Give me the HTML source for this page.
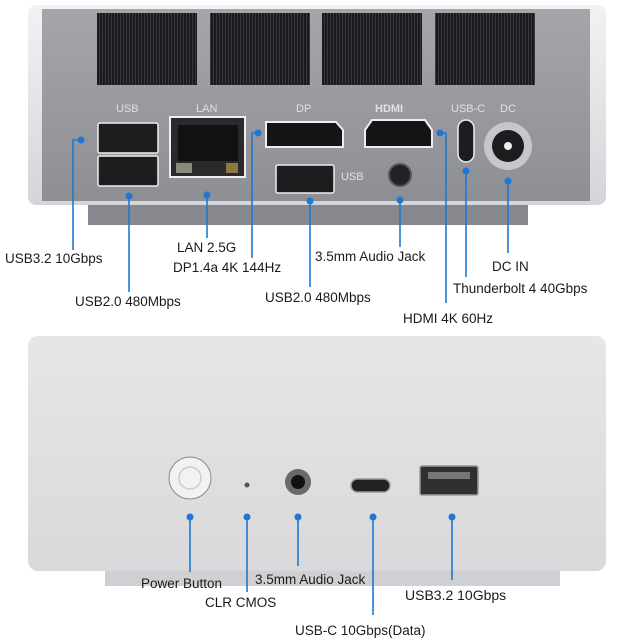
<!DOCTYPE html>
<html><head><style>body{margin:0;background:#fff}svg{display:block}text{font-family:"Liberation Sans",sans-serif;fill:#1a1a1a}</style></head><body>
<svg width="640" height="640" viewBox="0 0 640 640">
<defs>
<linearGradient id="sil" x1="0" x2="0" y1="0" y2="1"><stop offset="0" stop-color="#f2f2f4"/><stop offset="1" stop-color="#d4d5d8"/></linearGradient>
<linearGradient id="face" x1="0" x2="0" y1="0" y2="1"><stop offset="0" stop-color="#a4a6ab"/><stop offset="1" stop-color="#8d8f95"/></linearGradient>
<linearGradient id="body2" x1="0" x2="0" y1="0" y2="1"><stop offset="0" stop-color="#e6e6e8"/><stop offset="1" stop-color="#d9d9dc"/></linearGradient>
<pattern id="vent" width="3" height="4" patternUnits="userSpaceOnUse"><rect width="3" height="4" fill="#1a1a1c"/><rect width="1" height="4" fill="#3a3a3e"/></pattern>
</defs>
<!-- top device -->
<rect x="88" y="195" width="440" height="30" fill="#86888d"/>
<rect x="28" y="5" width="578" height="200" rx="8" fill="url(#sil)"/>
<rect x="42" y="9" width="548" height="192" fill="url(#face)"/>
<rect x="97" y="13" width="100" height="72" fill="url(#vent)"/>
<rect x="210" y="13" width="100" height="72" fill="url(#vent)"/>
<rect x="322" y="13" width="100" height="72" fill="url(#vent)"/>
<rect x="435" y="13" width="100" height="72" fill="url(#vent)"/>
<g font-size="11" fill="#d8d8da" style="fill:#dcdcde">
<text x="116" y="112" style="fill:#e0e0e2">USB</text><text x="196" y="112" style="fill:#e0e0e2">LAN</text><text x="296" y="112" style="fill:#e0e0e2">DP</text><text x="375" y="112" style="fill:#e0e0e2" font-weight="bold">HDMI</text><text x="451" y="112" style="fill:#e0e0e2">USB-C</text><text x="500" y="112" style="fill:#e0e0e2">DC</text><text x="341" y="180" style="fill:#e0e0e2">USB</text></g>
<rect x="98" y="123" width="60" height="30" rx="2" fill="#1d1d1f" stroke="#eee" stroke-width="1.5"/>
<rect x="98" y="156" width="60" height="30" rx="2" fill="#1d1d1f" stroke="#eee" stroke-width="1.5"/>
<rect x="170" y="117" width="75" height="60" fill="#2a2a2c" stroke="#eee" stroke-width="2"/>
<rect x="178" y="125" width="60" height="36" fill="#111"/>
<rect x="176" y="163" width="16" height="10" fill="#8a8a7a"/><rect x="226" y="163" width="12" height="10" fill="#8a7a40"/>
<path d="M266 122 H336 L343 130 V147 H266 Z" fill="#151517" stroke="#eee" stroke-width="2"/>
<path d="M372 120 H425 L432 130 V147 H365 V130 Z" fill="#151517" stroke="#eee" stroke-width="2"/>
<rect x="276" y="165" width="58" height="28" rx="2" fill="#1d1d1f" stroke="#eee" stroke-width="1.5"/>
<circle cx="400" cy="175" r="11" fill="#222" stroke="#555" stroke-width="2"/>
<rect x="458" y="120" width="16" height="42" rx="8" fill="#1d1d1f" stroke="#eee" stroke-width="1.5"/>
<circle cx="508" cy="146" r="24" fill="#c6c7ca"/><circle cx="508" cy="146" r="16" fill="#1d1d1f"/><circle cx="508" cy="146" r="4" fill="#eee"/>
<!-- top leaders -->
<g stroke="#1e78d0" stroke-width="1.6" fill="none">
<path d="M81 140 H73 V250"/><path d="M129 196 V292"/><path d="M207 195 V238"/><path d="M258 133 H252 V258"/><path d="M310 201 V287"/><path d="M400 200 V247"/><path d="M440 133 H446 V303"/><path d="M466 171 V277"/><path d="M508 181 V253"/>
</g>
<g fill="#1e78d0"><circle cx="81" cy="140" r="3.5"/><circle cx="129" cy="196" r="3.5"/><circle cx="207" cy="195" r="3.5"/><circle cx="258" cy="133" r="3.5"/><circle cx="310" cy="201" r="3.5"/><circle cx="400" cy="200" r="3.5"/><circle cx="440" cy="133" r="3.5"/><circle cx="466" cy="171" r="3.5"/><circle cx="508" cy="181" r="3.5"/></g>
<g font-size="13.5">
<text x="5" y="263">USB3.2 10Gbps</text><text x="75" y="306">USB2.0 480Mbps</text><text x="177" y="252">LAN 2.5G</text><text x="173" y="272">DP1.4a 4K 144Hz</text><text x="265" y="302">USB2.0 480Mbps</text><text x="315" y="261">3.5mm Audio Jack</text><text x="403" y="323">HDMI 4K 60Hz</text><text x="453" y="293">Thunderbolt 4 40Gbps</text><text x="492" y="271">DC IN</text>
</g>
<!-- bottom device -->
<rect x="105" y="560" width="455" height="26" fill="#cfd0d3"/>
<rect x="28" y="336" width="578" height="235" rx="10" fill="url(#body2)"/>
<circle cx="190" cy="478" r="21" fill="#f2f2f3" stroke="#888" stroke-width="1"/><circle cx="190" cy="478" r="11" fill="none" stroke="#ccc" stroke-width="1.5"/>
<circle cx="247" cy="485" r="2.5" fill="#555"/>
<circle cx="298" cy="482" r="13" fill="#6a6a6c"/><circle cx="298" cy="482" r="7" fill="#111"/>
<rect x="351" y="479" width="39" height="13" rx="6.5" fill="#222" stroke="#999" stroke-width="1.5"/>
<rect x="420" y="466" width="58" height="29" rx="2" fill="#303033" stroke="#999" stroke-width="1.5"/><rect x="428" y="472" width="42" height="7" fill="#777"/>
<g stroke="#1e78d0" stroke-width="1.6"><path d="M190 517 V572"/><path d="M247 517 V592"/><path d="M298 517 V566"/><path d="M373 517 V615"/><path d="M452 517 V580"/></g>
<g fill="#1e78d0"><circle cx="190" cy="517" r="3.5"/><circle cx="247" cy="517" r="3.5"/><circle cx="298" cy="517" r="3.5"/><circle cx="373" cy="517" r="3.5"/><circle cx="452" cy="517" r="3.5"/></g>
<g font-size="13.5"><text x="141" y="588">Power Button</text><text x="205" y="607">CLR CMOS</text><text x="255" y="584">3.5mm Audio Jack</text><text x="295" y="635">USB-C 10Gbps(Data)</text><text x="405" y="600" font-size="14">USB3.2 10Gbps</text></g>
</svg>
</body></html>
